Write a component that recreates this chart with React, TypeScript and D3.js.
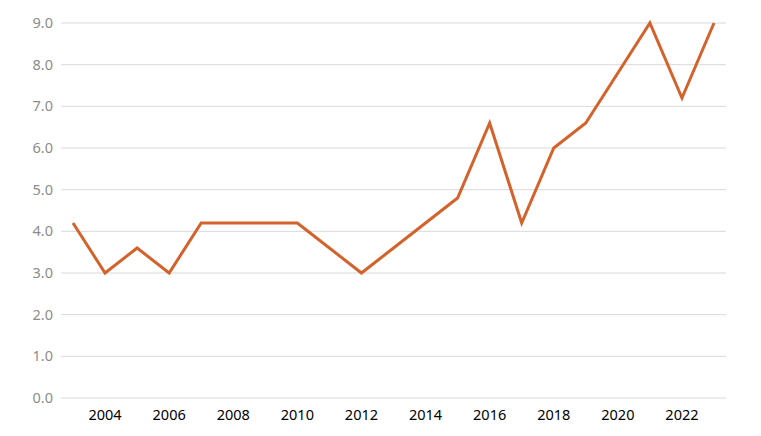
import React from "react";
import * as d3 from "d3";

const years = [2003, 2004, 2005, 2006, 2007, 2008, 2009, 2010, 2011, 2012, 2013, 2014, 2015, 2016, 2017, 2018, 2019, 2020, 2021, 2022, 2023];
const values = [4.2, 3.0, 3.6, 3.0, 4.2, 4.2, 4.2, 4.2, 3.6, 3.0, 3.6, 4.2, 4.8, 6.6, 4.2, 6.0, 6.6, 7.8, 9.0, 7.2, 9.0];
const yTicks = [0, 1, 2, 3, 4, 5, 6, 7, 8, 9];
const xTicks = [2004, 2006, 2008, 2010, 2012, 2014, 2016, 2018, 2020, 2022];

export default function App() {
  const W = 761, H = 436;
  const x = d3.scaleLinear().domain([2003, 2023]).range([73, 714]);
  const y = d3.scaleLinear().domain([0, 9]).range([398, 23]);
  const line = d3.line<number>().x((_, i) => x(years[i])).y((d) => y(d));
  return (
    <svg width={W} height={H} style={{ position: "absolute", left: 0, top: 0 }} fontFamily="'Noto Sans', sans-serif">
      {yTicks.map((t) => (
        <g key={t}>
          <line x1={61} x2={726} y1={y(t)} y2={y(t)} stroke="#d9d9d9" strokeWidth={1} />
          <text x={53} y={y(t)} dy="0.35em" textAnchor="end" fontSize={14.5} fill="#8c8c8c">{t.toFixed(1)}</text>
        </g>
      ))}
      {xTicks.map((t) => (
        <text key={t} x={x(t)} y={420} textAnchor="middle" fontSize={14.5} fill="#000">{t}</text>
      ))}
      <path d={line(values) || ""} fill="none" stroke="#d4622b" strokeWidth={3} strokeLinejoin="miter" />
    </svg>
  );
}
